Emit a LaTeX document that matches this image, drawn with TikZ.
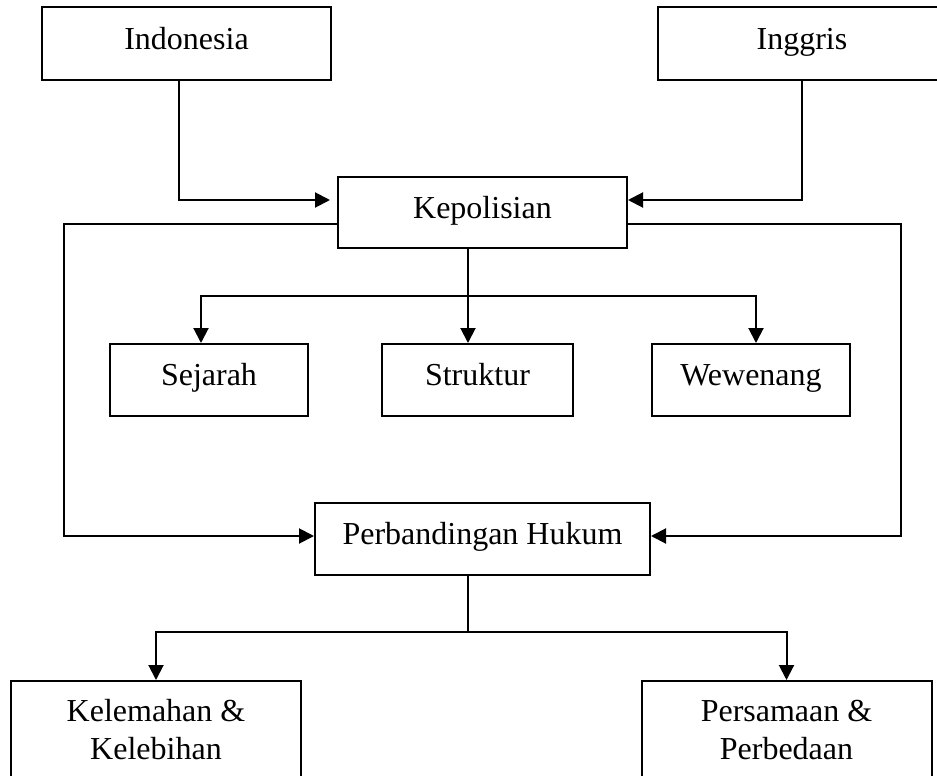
\documentclass[tikz,border=0pt]{standalone}
\usepackage{fontspec}
\setmainfont{Liberation Serif}
\usetikzlibrary{arrows.meta, positioning, calc}
\tikzset{
    >={Triangle[length=7.5pt, width=7.5pt]}
}
\begin{document}
\begin{tikzpicture}[x=0.5pt, y=-0.5pt, line width=1pt, font={\fontsize{16}{19}\selectfont},
    box/.style={draw, inner sep=0pt, text height=10.5pt, text depth=5pt, minimum height=36pt},
    twobox/.style={draw, inner sep=0pt, align=center, anchor=north, minimum width=145pt, text height=39pt, text depth=20pt}]
    \useasboundingbox (0, 0) rectangle (937, 776);
    \node[box, minimum width=144.5pt, minimum height=36.5pt] (indonesia) at (186.5, 43.5) {Indonesia};
    \node[box, minimum width=144.5pt, minimum height=36.5pt] (inggris) at (802, 43.5) {Inggris};
    \node[box, minimum width=144.5pt, minimum height=35.5pt] (kepolisian) at (482.5, 212.5) {Kepolisian};
    \node[box, minimum width=99pt] (sejarah) at (209, 380) {Sejarah};
    \node[box, minimum width=95.5pt] (struktur) at (477.5, 380) {Struktur};
    \node[box, minimum width=99pt] (wewenang) at (751, 380) {Wewenang};
    \node[box, minimum width=167.5pt] (perbandingan) at (482.5, 539) {Perbandingan Hukum};
    \node[twobox] (kelemahan) at (156, 680) {Kelemahan \&\\Kelebihan};
    \node[twobox] (persamaan) at (786.5, 680) {Persamaan \&\\Perbedaan};
    \coordinate (lft) at (64, 380);
    \coordinate (rgt) at (901, 380);
    \coordinate (kbranch) at (468, 296);
    \coordinate (pbranch) at (468, 632);
    \draw[->, shorten >=3.5pt] ([xshift=-3.75pt]indonesia.south) |- ([yshift=6.25pt]kepolisian.west);
    \draw[->] (inggris.south) |- ([yshift=6.25pt]kepolisian.east);
    \draw[->] ([yshift=-5.75pt]kepolisian.west) -| (lft) |- ([yshift=1.5pt]perbandingan.west);
    \draw[->] ([yshift=-5.75pt]kepolisian.east) -| (rgt) |- ([yshift=1.5pt]perbandingan.east);
    \draw[->] ([xshift=-7.25pt]kepolisian.south) -- ([xshift=-4.75pt]struktur.north);
    \draw[->] (kbranch) -| ([xshift=-4pt]sejarah.north);
    \draw[->] (kbranch) -| ([xshift=2.5pt]wewenang.north);
    \draw ([xshift=-7.25pt]perbandingan.south) -- (pbranch);
    \draw[->] (pbranch) -| (kelemahan.north);
    \draw[->] (pbranch) -| (persamaan.north);
\end{tikzpicture}
\end{document}
